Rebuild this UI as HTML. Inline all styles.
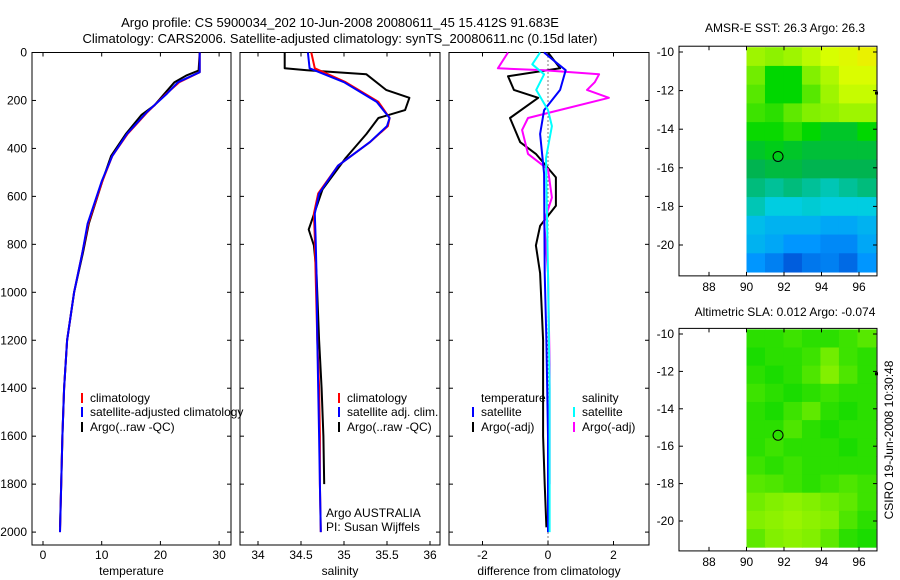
<!DOCTYPE html>
<html><head><meta charset="utf-8"><style>
body{margin:0;background:#fff;}
svg{display:block;font-family:"Liberation Sans",sans-serif;font-size:12px;}
</style></head><body>
<svg id="c" width="900" height="580" viewBox="0 0 900 580">
<text x="340" y="27" text-anchor="middle" font-size="13">Argo profile: CS 5900034_202 10-Jun-2008 20080611_45 15.412S 91.683E</text>
<text x="340" y="43" text-anchor="middle" font-size="13">Climatology: CARS2006. Satellite-adjusted climatology: synTS_20080611.nc (0.15d later)</text>
<text x="785" y="32" text-anchor="middle">AMSR-E SST: 26.3  Argo: 26.3</text>
<text x="785" y="316" text-anchor="middle">Altimetric SLA: 0.012  Argo: -0.074</text>
<text transform="translate(893,440) rotate(-90)" text-anchor="middle">CSIRO 19-Jun-2008 10:30:48</text>
</svg>
<script>
// depth axis shared
const depthTicks=[0,200,400,600,800,1000,1200,1400,1600,1800,2000];
// temperature panel
const tTicks=[0,10,20,30];
const climTD=[0,82,124,172,248,340,431,537,714,836,1000,1200,1400,1600,1800,2000];
const climT=[26.7,26.7,23.2,21.0,17.8,14.4,11.8,10.1,7.7,6.7,5.3,4.1,3.6,3.3,3.1,2.9];
const satT=[26.7,26.7,23.0,21.1,17.7,14.3,11.8,10.0,7.6,6.7,5.3,4.1,3.6,3.3,3.1,2.9];
const argoTD=[0,75,95,124,172,220,260,340,431,537,714,836,1000,1200,1400,1600,1800,1980];
const argoT=[26.7,26.5,24.5,22.4,20.7,19.0,16.8,14.1,11.6,10.1,7.8,6.8,5.3,4.1,3.6,3.3,3.1,2.9];
// salinity panel
const sTicks=[34,34.5,35,35.5,36];
const climSD=[0,66,124,206,273,307,374,472,588,672,771,920,1200,1400,1600,1800,2000];
const climS=[34.62,34.66,35.02,35.40,35.53,35.51,35.30,34.93,34.70,34.65,34.66,34.67,34.69,34.71,34.72,34.72,34.73];
const satS=[34.58,34.60,35.00,35.38,35.53,35.50,35.30,34.93,34.71,34.66,34.67,34.68,34.69,34.70,34.71,34.72,34.73];
const argoSD=[0,66,74,91,156,189,240,273,340,440,571,738,805,920,1200,1400,1600,1800];
const argoS=[34.31,34.31,34.57,35.26,35.49,35.76,35.71,35.40,35.26,35.02,34.75,34.59,34.65,34.68,34.71,34.74,34.76,34.77];
// difference panel
const dTicks=[-2,0,2];
const tSatDD=[0,41,74,156,240,340,505,920,1200,1600,2000];
const tSatD=[-0.12,0.24,0.54,0.37,-0.12,-0.24,-0.12,-0.1,-0.05,0,0];
const tArgoDD=[0,66,99,156,189,273,374,423,521,639,723,805,920,1200,1400,1600,1800,1980];
const tArgoD=[0,0.37,-1.22,-1.04,-0.3,-1.16,-0.85,-0.37,0.24,0.24,-0.24,-0.37,-0.24,-0.15,-0.15,-0.15,-0.1,-0.05];
const sSatDD=[0,49,91,156,240,307,440,920,1400,2000];
const sSatD=[-0.24,-0.48,-0.12,-0.36,0,0.12,-0.06,0,0.05,0.05];
const sArgoDD=[0,66,74,91,124,156,189,248,273,323,423,487,605,706,920,1300,1800];
const sArgoD=[-1.22,-1.53,-0.12,1.56,1.43,1.19,1.86,0.12,-0.61,-0.79,-0.61,0,0.12,-0.12,0,0.05,0.05];
// maps (rows from north to south, cols 90E..97E)
const latTicks=[-10,-12,-14,-16,-18,-20];
const lonTicks=[88,90,92,94,96];
const sstGrid=[
[.75,.72,.75,.8,.85,.88,.92],[.68,.55,.55,.7,.78,.86,.86],[.65,.55,.55,.65,.75,.82,.82],
[.62,.6,.66,.7,.72,.75,.75],[.56,.56,.6,.55,.5,.5,.55],[.5,.52,.5,.48,.48,.48,.48],
[.45,.47,.47,.45,.45,.45,.45],[.42,.4,.42,.4,.38,.4,.42],[.38,.35,.35,.36,.35,.35,.35],
[.32,.3,.3,.3,.28,.28,.3],[.3,.28,.25,.25,.22,.22,.28],[.25,.2,.12,.18,.2,.15,.25]];
const slaGrid=[
[.6,.6,.62,.6,.6,.62,.65],[.58,.6,.6,.62,.68,.62,.6],[.6,.58,.6,.64,.7,.64,.6],
[.62,.6,.58,.6,.62,.6,.6],[.6,.58,.62,.66,.6,.58,.6],[.6,.6,.64,.6,.58,.6,.6],
[.6,.62,.6,.6,.6,.58,.6],[.62,.6,.62,.6,.6,.6,.6],[.65,.64,.62,.6,.62,.64,.62],
[.68,.7,.72,.7,.68,.66,.62],[.7,.72,.74,.72,.7,.64,.6],[.66,.7,.72,.7,.66,.6,.58]];
const argoLon=91.683, argoLat=-15.412;

const NS='http://www.w3.org/2000/svg';
const svg=document.getElementById('c');
function el(t,a,p){const e=document.createElementNS(NS,t);for(const k in a)e.setAttribute(k,a[k]);(p||svg).appendChild(e);return e;}
const FT=52.5,FB=545;
const yD=d=>52.5+d*0.2398;
const panels=[
 {x0:32,x1:231,f:v=>43+5.87*v,ticks:tTicks,lab:'temperature',name:'temperature'},
 {x0:240,x1:440,f:v=>258+86*(v-34),ticks:sTicks,lab:'salinity',name:'salinity'},
 {x0:449,x1:649,f:v=>548+32.75*v,ticks:dTicks,lab:'difference from climatology',name:'difference'}];
panels.forEach((p,i)=>{
 const g=el('g',{});
 
 
 el('rect',{x:p.x0,y:FT,width:p.x1-p.x0,height:FB-FT,fill:'none',stroke:'#000'},g);
 depthTicks.forEach(d=>{const y=yD(d);
  el('line',{x1:p.x0,x2:p.x0+4,y1:y,y2:y,stroke:'#000'},g);
  el('line',{x1:p.x1,x2:p.x1-4,y1:y,y2:y,stroke:'#000'},g);
  if(i==0){const t=el('text',{x:27,y:y+4,'text-anchor':'end'},g);t.textContent=d;
   
   }
 });
 p.ticks.forEach(v=>{const x=p.f(v);
  el('line',{x1:x,x2:x,y1:FT,y2:FT+4,stroke:'#000'},g);
  el('line',{x1:x,x2:x,y1:FB,y2:FB-4,stroke:'#000'},g);
  const t=el('text',{x:x,y:559,'text-anchor':'middle'},g);t.textContent=v;
  
  
 });
 const xl=el('text',{x:(p.x0+p.x1)/2,y:575,'text-anchor':'middle'},g);xl.textContent=p.lab;
 
 
});
// zero line
const zl=el('line',{x1:548,x2:548,y1:FT,y2:FB,stroke:'#000','stroke-dasharray':'1,3'});


function line(p,ds,vs,col,name,w){
 const pts=ds.map((d,i)=>p.f(vs[i]).toFixed(1)+','+yD(d).toFixed(1)).join(' ');
 const e=el('polyline',{points:pts,fill:'none',stroke:col,'stroke-width':w||2,'stroke-linejoin':'round'});
 
 
}
const [P1,P2,P3]=panels;
line(P1,argoTD,argoT,'#000','argo-temperature-line');
line(P1,climTD,climT,'#f00','climatology-temperature-line');
line(P1,climTD,satT,'#00f','satellite-temperature-line');
line(P2,argoSD,argoS,'#000','argo-salinity-line');
line(P2,climSD,climS,'#f00','climatology-salinity-line');
line(P2,climSD,satS,'#00f','satellite-salinity-line');
line(P3,tArgoDD,tArgoD,'#000','temperature-argo-diff-line');
line(P3,sArgoDD,sArgoD,'#f0f','salinity-argo-diff-line');
line(P3,tSatDD,tSatD,'#00f','temperature-satellite-diff-line');
line(P3,sSatDD,sSatD,'#0ff','salinity-satellite-diff-line');
// legends
function leg(x,y,col,txt,name){
 const g=el('g',{});
 
 
 if(col) el('line',{x1:x,x2:x,y1:y-9,y2:y+1,stroke:col,'stroke-width':2},g);
 const t=el('text',{x:x+(col?8:0),y:y},g);t.textContent=txt;
}
leg(82,402,'#f00','climatology','legend-climatology');
leg(82,416,'#00f','satellite-adjusted climatology','legend-satellite');
leg(82,431,'#000','Argo(..raw -QC)','legend-argo');
leg(339,402,'#f00','climatology','legend-climatology-2');
leg(339,416,'#00f','satellite adj. clim.','legend-satellite-2');
leg(339,431,'#000','Argo(..raw -QC)','legend-argo-2');
leg(481,402,null,'temperature','legend-temperature-header');
leg(473,416,'#00f','satellite','legend-temp-satellite');
leg(473,431,'#000','Argo(-adj)','legend-temp-argo');
leg(582,402,null,'salinity','legend-salinity-header');
leg(574,416,'#0ff','satellite','legend-sal-satellite');
leg(574,431,'#f0f','Argo(-adj)','legend-sal-argo');
const a1=el('text',{x:326,y:517});a1.textContent='Argo AUSTRALIA';


const a2=el('text',{x:326,y:531});a2.textContent='PI: Susan Wijffels';


// colormap
function cmap(v){
 const st=[[0,[0,40,190]],[.25,[0,150,255]],[.35,[0,205,225]],[.45,[0,180,80]],[.55,[0,215,0]],[.7,[130,240,0]],[.85,[215,255,0]],[1,[255,225,0]]];
 for(let i=1;i<st.length;i++){if(v<=st[i][0]){const [a,ca]=st[i-1],[b,cb]=st[i];const t=(v-a)/(b-a);
  return 'rgb('+ca.map((c,k)=>Math.round(c+(cb[k]-c)*t)).join(',')+')';}}
 return 'rgb(255,225,0)';
}
function map(top,bot,grid,name){
 const yL=lat=>top+(lat+10)*(top-bot)/10;
 const xL=lon=>709+(lon-88)*18.75;
 const g=el('g',{});
 
 
 const fy0=yL(-9.7),fy1=yL(-21.6);
 const rows=grid.length,cols=grid[0].length;
 const x0=xL(90),x1=xL(96.9),y0=yL(-9.75),y1=yL(-21.4);
 const cw=(x1-x0)/cols,ch=(y1-y0)/rows;
 grid.forEach((r,i)=>r.forEach((v,j)=>{
  const c=el('rect',{x:x0+j*cw,y:y0+i*ch,width:cw+0.5,height:ch+0.5,fill:cmap(v)},g);
  
  
 }));
 el('rect',{x:679,y:fy0,width:198,height:fy1-fy0,fill:'none',stroke:'#000'},g);
 latTicks.forEach(l=>{const y=yL(l);
  el('line',{x1:679,x2:683,y1:y,y2:y,stroke:'#000'},g);
  el('line',{x1:877,x2:873,y1:y,y2:y,stroke:'#000'},g);
  const t=el('text',{x:674,y:y+4,'text-anchor':'end'},g);t.textContent=l;
  
  
 });
 lonTicks.forEach(l=>{const x=xL(l);
  el('line',{x1:x,x2:x,y1:fy0,y2:fy0+4,stroke:'#000'},g);
  el('line',{x1:x,x2:x,y1:fy1,y2:fy1-4,stroke:'#000'},g);
  const t=el('text',{x:x,y:fy1+15,'text-anchor':'middle'},g);t.textContent=l;
  
  
 });
 const m=el('circle',{cx:xL(argoLon),cy:yL(argoLat),r:5,fill:'none',stroke:'#000'},g);
 
 
 el('rect',{x:875,y:yL(-12.1)-1,width:3,height:3,fill:'#000'},g);
}
map(52,245,sstGrid,'sst-map');
map(334,521,slaGrid,'sla-map');
</script>
</body></html>
